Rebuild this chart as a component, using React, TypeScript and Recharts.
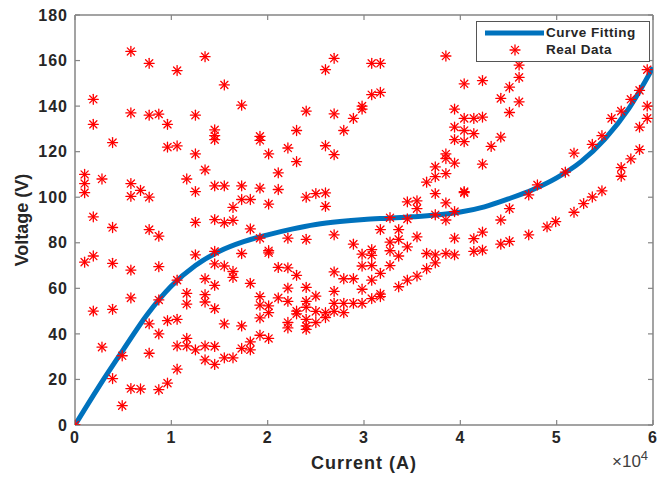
import { ComposedChart, Line, Scatter, XAxis, YAxis, Label, ReferenceLine } from 'recharts'

// current is in units of 1e4 A (the axis shows a x10^4 multiplier)
const xTicks = [0, 1, 2, 3, 4, 5, 6]
const yTicks = [0, 20, 40, 60, 80, 100, 120, 140, 160, 180]

const curveCurrent = [0, 0.25, 0.5, 0.75, 1, 1.25, 1.5, 1.75, 2, 2.25, 2.5, 2.75, 3, 3.25, 3.5, 3.75, 4, 4.25, 4.5, 4.75, 5, 5.25, 5.5, 5.75, 6]
const curveVoltage = [0, 17, 33, 48.5, 61, 70, 76.3, 80.5, 83.5, 86, 88, 89.3, 90.2, 90.8, 91.4, 92.2, 93.5, 95.8, 99.3, 103.3, 108.5, 115.5, 125.5, 139, 157]

// real data grouped by current column
const realCurrent = [
  0, 0.1, 0.19, 0.28, 0.39, 0.49, 0.58, 0.68, 0.77, 0.87, 0.96, 1.06, 1.16, 1.25, 1.35, 1.45, 1.55, 1.64, 1.73, 1.82,
  1.92, 2.01, 2.11, 2.21, 2.3, 2.4, 2.5, 2.6, 2.69, 2.79, 2.89, 2.98, 3.08, 3.17, 3.27, 3.36, 3.45, 3.55, 3.65, 3.74,
  3.85, 3.94, 4.04, 4.14, 4.23, 4.32, 4.42, 4.51, 4.61, 4.71, 4.8, 4.9, 4.99, 5.09, 5.18, 5.28, 5.37, 5.47, 5.57, 5.67,
  5.77, 5.86, 5.94,
]
const realVoltage = [
  [0],
  [110, 106, 102, 71.5],
  [143, 132, 91.4, 74.2, 50],
  [108, 34.2],
  [124, 86.7, 71, 50.8, 20.4],
  [30.4, 8.5],
  [164, 137, 106, 100.4, 68, 55.8, 16],
  [103, 15.8],
  [158.8, 136, 100, 85.8, 44.4, 31.5],
  [136.5, 82.9, 69.5, 54.9, 40, 15.5],
  [132, 122, 45.8, 18.4],
  [155.6, 122.5, 63.6, 46.4, 34.7, 24.5],
  [108, 57.8, 53.1, 38, 34.7],
  [136, 119, 102.5, 89, 74.7, 33],
  [161.7, 112, 64.2, 57.2, 54, 34.7, 28.6],
  [129.6, 127, 125.3, 105, 90.2, 76.2, 70.7, 61.3, 51.1, 34.5, 26.6],
  [149.3, 105, 88.8, 69.8, 44.4, 29.5],
  [95.5, 89.8, 67.4, 64.8, 29.5],
  [140.4, 105, 99, 75.3, 43.5, 33.6],
  [99, 86.1, 62.2, 36.5, 33],
  [126.7, 125, 104, 82, 56.4, 52.6, 47, 39.4],
  [119, 97, 76.5, 75.6, 52.3, 49.3, 38],
  [110.7, 103.4, 69.2, 55.8],
  [121.6, 82, 69, 60.1, 54.3, 45, 42.6],
  [129.3, 115.6, 65.7, 50, 48.8],
  [137.8, 100, 81.5, 60.4, 54.3, 51.7, 46.4, 43.5, 42],
  [101.6, 56.6, 49.9, 45],
  [156, 122.6, 101.9, 96, 49.3, 47.2],
  [161, 136.6, 118.7, 83.5, 67.2, 58.7, 53.4, 49.9],
  [129.3, 64.2, 53.4, 49.3],
  [134.6, 79.4, 64.2, 53.4],
  [140, 138.7, 75, 69.8, 59.6, 53.4],
  [158.8, 145, 77, 74.5, 70, 63.6, 55.5],
  [158.8, 146, 85.8, 66.6, 57.5, 56.4],
  [91, 80.3, 76.5, 70],
  [85.8, 81.5, 74.2, 60.7],
  [98, 90.5, 78.2, 63.6],
  [98.4, 95, 82.6, 65.4],
  [106.6, 75.3, 68.6],
  [113.3, 109, 101.6, 92.3, 74.7, 71.2],
  [162, 119, 117, 110.4, 97.5, 90, 75.3],
  [138.7, 130.8, 125.3, 115, 93.7, 82, 74.7],
  [149.8, 134.6, 129.3, 124.4, 102.5, 102],
  [134.6, 127.9, 81.8, 76.2],
  [151.2, 135.2, 114.5, 84.7, 76.8],
  [122.3],
  [143.4, 126.4, 90, 79.4],
  [148.3, 137.2, 95, 80.6],
  [158, 152.6, 141.9],
  [101, 83.5],
  [105.4],
  [87],
  [89.3],
  [111],
  [119.4, 93.4],
  [97.2],
  [123.2, 100.1],
  [127, 102.8],
  [134.6],
  [137.8, 113, 109.2],
  [143, 116.8],
  [146.9, 130.8, 120.9],
  [156, 140, 134.6],
]

const curveData = curveCurrent.map((x, i) => ({ x, y: curveVoltage[i] }))
const realData = realCurrent.flatMap((x, i) => realVoltage[i].map((y) => ({ x, y })))

const X_MAX = 6
const Y_MAX = 180
// inward tick length, in data units (~5px)
const X_TICK_LEN = 0.052
const Y_TICK_LEN = 2.2

const AXIS = '#858585'
const TEXT = '#262626'
const RED = '#ff0000'
const BLUE = '#0072bd'
const FONT = '"Liberation Sans", Arial, sans-serif'

const tickStyle = { fontSize: 16, fontWeight: 700, fill: TEXT, fontFamily: FONT, letterSpacing: 1 }

function Asterisk({ cx, cy, r = 5 }: { cx?: number; cy?: number; r?: number }) {
  if (cx == null || cy == null) return null
  const d = r * 0.72
  return (
    <g stroke={RED} strokeWidth={1.3} strokeLinecap="round">
      <line x1={cx - r} y1={cy} x2={cx + r} y2={cy} />
      <line x1={cx} y1={cy - r} x2={cx} y2={cy + r} />
      <line x1={cx - d} y1={cy - d} x2={cx + d} y2={cy + d} />
      <line x1={cx - d} y1={cy + d} x2={cx + d} y2={cy - d} />
    </g>
  )
}

export default function App() {
  // matlab-style box: top/right borders plus inward ticks on all four sides
  const frame = [
    <ReferenceLine key="top" y={Y_MAX} stroke={AXIS} strokeWidth={1.5} />,
    <ReferenceLine key="right" x={X_MAX} stroke={AXIS} strokeWidth={1.5} />,
    ...xTicks.flatMap((t) => [
      <ReferenceLine key={`xb${t}`} segment={[{ x: t, y: 0 }, { x: t, y: Y_TICK_LEN }]} stroke={AXIS} strokeWidth={1.2} />,
      <ReferenceLine key={`xt${t}`} segment={[{ x: t, y: Y_MAX }, { x: t, y: Y_MAX - Y_TICK_LEN }]} stroke={AXIS} strokeWidth={1.2} />,
    ]),
    ...yTicks.flatMap((t) => [
      <ReferenceLine key={`yl${t}`} segment={[{ x: 0, y: t }, { x: X_TICK_LEN, y: t }]} stroke={AXIS} strokeWidth={1.2} />,
      <ReferenceLine key={`yr${t}`} segment={[{ x: X_MAX, y: t }, { x: X_MAX - X_TICK_LEN, y: t }]} stroke={AXIS} strokeWidth={1.2} />,
    ]),
  ]

  return (
    <div style={{ position: 'relative', width: 664, height: 478, background: '#fff', fontFamily: FONT }}>
      <style>{'body{margin:0}'}</style>
      <ComposedChart width={664} height={478} margin={{ top: 15, right: 11, left: 0, bottom: 0 }}>
        <XAxis
          dataKey="x"
          type="number"
          domain={[0, X_MAX]}
          ticks={xTicks}
          allowDataOverflow
          height={53}
          stroke={AXIS}
          strokeWidth={1.5}
          tickLine={false}
          tickSize={0}
          tickMargin={7}
          tick={tickStyle}
        >
          <Label
            value="Current (A)"
            position="insideBottom"
            offset={9}
            style={{ fontSize: 18, fontWeight: 700, fill: TEXT, fontFamily: FONT, letterSpacing: 1 }}
          />
        </XAxis>
        <YAxis
          dataKey="y"
          type="number"
          domain={[0, Y_MAX]}
          ticks={yTicks}
          allowDataOverflow
          width={75}
          stroke={AXIS}
          strokeWidth={1.5}
          tickLine={false}
          tickSize={0}
          tickMargin={7}
          tick={tickStyle}
        >
          <Label
            value="Voltage (V)"
            angle={-90}
            position="insideLeft"
            offset={22}
            style={{ fontSize: 18, fontWeight: 700, fill: TEXT, fontFamily: FONT, textAnchor: 'middle' }}
          />
        </YAxis>

        {frame}

        <Line
          data={curveData}
          dataKey="y"
          type="monotone"
          stroke={BLUE}
          strokeWidth={5}
          dot={false}
          activeDot={false}
          isAnimationActive={false}
        />
        <Scatter data={realData} fill={RED} shape={(p: any) => <Asterisk cx={p.cx} cy={p.cy} />} isAnimationActive={false} />
      </ComposedChart>

      <div
        style={{
          position: 'absolute',
          left: 476,
          top: 21,
          width: 172,
          height: 39,
          border: '1.5px solid #555',
          background: '#fff',
          fontSize: 13.5,
          fontWeight: 700,
          color: TEXT,
          letterSpacing: 0.5,
        }}
      >
        <svg width={70} height={39} style={{ position: 'absolute', left: 0, top: 0 }}>
          <line x1={8} y1={11} x2={67} y2={11} stroke={BLUE} strokeWidth={5} />
          <Asterisk cx={38} cy={28} />
        </svg>
        <div style={{ position: 'absolute', left: 69, top: 3, lineHeight: '16px' }}>Curve Fitting</div>
        <div style={{ position: 'absolute', left: 69, top: 20, lineHeight: '16px' }}>Real Data</div>
      </div>

      <div style={{ position: 'absolute', left: 612, top: 452, fontSize: 17, color: '#404040' }}>
        ×10<sup style={{ fontSize: 13, verticalAlign: 'super', lineHeight: 0 }}>4</sup>
      </div>
    </div>
  )
}
